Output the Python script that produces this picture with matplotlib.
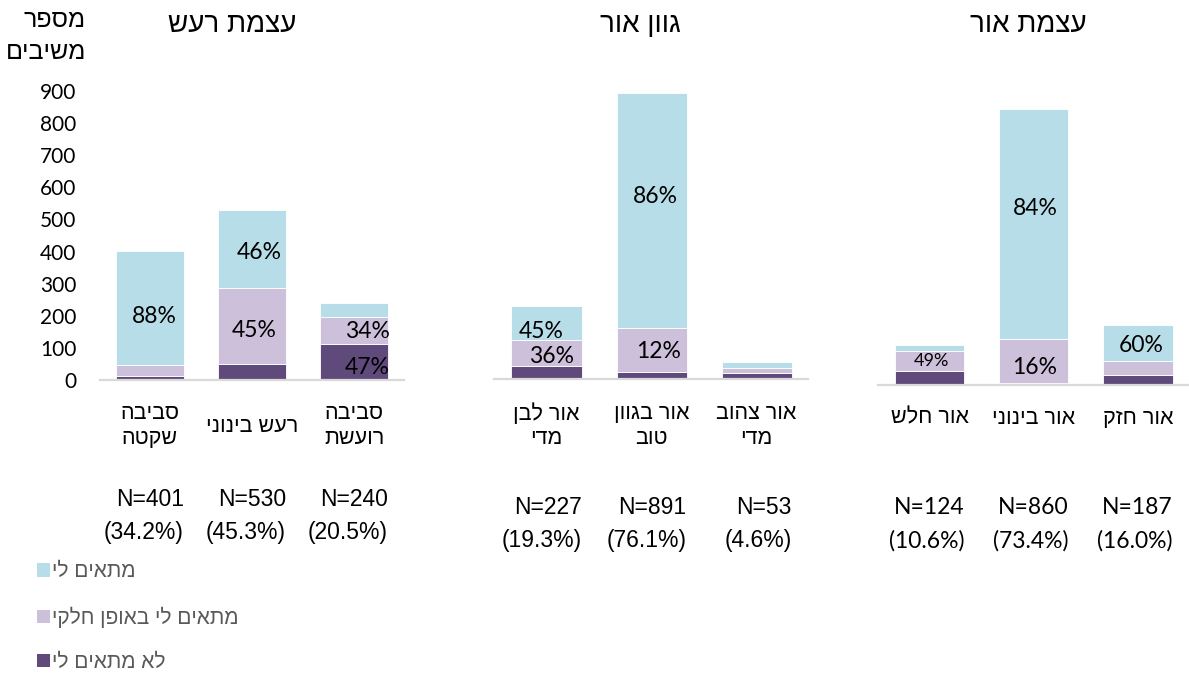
import matplotlib
matplotlib.use("Agg")
import matplotlib.pyplot as plt
import matplotlib.transforms as mtransforms
from matplotlib.patches import Patch
import numpy as np

plt.rcParams['font.family'] = ['Liberation Sans', 'DejaVu Sans']


def heb(s):
    # matplotlib has no bidi support, so flip every line to read right-to-left
    return "\n".join(line[::-1] for line in s.split("\n"))


# ----------------------------------------------------------------------
# Data (respondent counts)
# ----------------------------------------------------------------------
series_names = ["לא מתאים לי", "מתאים לי באופן חלקי", "מתאים לי"]
series_colors = ["#604A7B", "#CCC0DA", "#B7DEE8"]

noise_title = "עצמת רעש"
noise_cats = ["סביבה\nשקטה", "רעש בינוני", "סביבה\nרועשת"]
noise_not = [13, 49, 113]
noise_partial = [35, 238, 82]
noise_fit = [353, 243, 45]
noise_n = [401, 530, 240]
noise_share = [34.2, 45.3, 20.5]
# (bar, series, text)
noise_labels = [(0, 2, "88%"), (1, 2, "46%"), (1, 1, "45%"), (2, 1, "34%"), (2, 0, "47%")]

color_title = "גוון אור"
color_cats = ["אור לבן\nמדי", "אור בגוון\nטוב", "אור צהוב\nמדי"]
color_not = [41, 23, 18]
color_partial = [82, 137, 16]
color_fit = [104, 731, 19]
color_n = [227, 891, 53]
color_share = [19.3, 76.1, 4.6]
color_labels = [(0, 2, "45%"), (0, 1, "36%"), (1, 2, "86%"), (1, 1, "12%")]

light_title = "עצמת אור"
light_cats = ["אור חלש", "אור בינוני", "אור חזק"]
light_not = [44, 7, 30]
light_partial = [61, 135, 44]
light_fit = [19, 718, 113]
light_n = [124, 860, 187]
light_share = [10.6, 73.4, 16.0]
light_labels = [(0, 1, "49%"), (1, 2, "84%"), (1, 1, "16%"), (2, 2, "60%")]

y_ticks = [0, 100, 200, 300, 400, 500, 600, 700, 800, 900]

# ----------------------------------------------------------------------
# Layout (pixel based, the source is three pasted charts)
# ----------------------------------------------------------------------
W, H = 1189, 676
fig = plt.figure(figsize=(W / 100, H / 100), dpi=100)
fig.patch.set_facecolor("white")


def fy(ypx):
    return 1 - ypx / H


def panel_axes(left, right, base, top):
    return fig.add_axes([left / W, fy(base), (right - left) / W, (base - top) / H])


def draw_panel(ax, title, title_x, cats, stacks, n, share, labels, label_offsets,
               cat_y, n_y, n_font, label_sizes, xlim):
    x = np.arange(len(cats))
    bottom = np.zeros(len(cats))
    tops = []
    for vals, c in zip(stacks, series_colors):
        vals = np.array(vals, dtype=float)
        ax.bar(x, vals, bottom=bottom, width=0.667, color=c,
               edgecolor="white", linewidth=0.6, zorder=2)
        tops.append((bottom.copy(), bottom + vals))
        bottom = bottom + vals

    ax.set_xlim(*xlim)
    ax.set_ylim(0, 900)
    ax.set_xticks([])
    for s in ["top", "right", "left"]:
        ax.spines[s].set_visible(False)
    ax.spines["bottom"].set_color("#D9D9D9")
    ax.spines["bottom"].set_linewidth(1.6)
    ax.set_facecolor("none")

    # percentages inside segments
    for (b, s, txt), (dx, dy), fs in zip(labels, label_offsets, label_sizes):
        lo, hi = tops[s][0][b], tops[s][1][b]
        ax.annotate(txt, (x[b], (lo + hi) / 2), xytext=(dx, dy),
                    textcoords="offset pixels", ha="center", va="center",
                    fontsize=fs, family=["Lato", "DejaVu Sans"], color="#000000", zorder=3)

    trans = mtransforms.blended_transform_factory(ax.transData, fig.transFigure)
    for i, c in enumerate(cats):
        ax.text(x[i], fy(cat_y), heb(c), transform=trans, ha="center", va="center",
                multialignment="center", fontsize=15.5, linespacing=1.2, color="#000000")
        ax.text(x[i] + 0.333, fy(n_y), f"N={n[i]}", transform=trans, ha="right",
                va="center", fontsize=16.5, family=n_font, color="#000000")
        ax.text(x[i] + 0.333, fy(n_y + 34), f"({share[i]:.1f}%)", transform=trans,
                ha="right", va="center", fontsize=16.5, family=n_font, color="#000000")

    fig.text(title_x / W, fy(25), heb(title), ha="center", va="center",
             fontsize=20, color="#000000")


ax1 = panel_axes(100, 404, 380, 91)
draw_panel(ax1, noise_title, 232, noise_cats, [noise_not, noise_partial, noise_fit],
           noise_n, noise_share, noise_labels,
           [(4, -9), (7, -4), (2, -4), (13, -1), (13, -6)],
           426, 499, ["Liberation Sans"], [16.5] * 5, (-0.49, 2.49))
ax1.set_yticks(y_ticks)
ax1.set_yticklabels([str(t) for t in y_ticks], family=["Lato", "DejaVu Sans"], fontsize=15)
ax1.tick_params(axis="y", length=0, pad=17)

ax2 = panel_axes(494, 808, 379, 90)
draw_panel(ax2, color_title, 640, color_cats, [color_not, color_partial, color_fit],
           color_n, color_share, color_labels,
           [(-5, -9), (5, -4), (4, 14), (7, -2)],
           426, 507, ["Liberation Sans"], [16.5] * 4, (-0.5, 2.49))
ax2.set_yticks([])

ax3 = panel_axes(878, 1190, 385, 96)
draw_panel(ax3, light_title, 1028, light_cats, [light_not, light_partial, light_fit],
           light_n, light_share, light_labels,
           [(2, 0), (2, 16), (1, -6), (3, -2)],
           418, 507, ["Lato", "DejaVu Sans"], [13, 16.5, 16.5, 16.5], (-0.495, 2.5))
ax3.set_yticks([])

# y axis title
fig.text(86 / W, fy(36), heb("מספר\nמשיבים"), ha="right", va="center",
         multialignment="right", fontsize=18, linespacing=1.45, color="#000000")

# legend (top to bottom: fit, partial, not fit)
handles = [Patch(facecolor=series_colors[i], edgecolor="none") for i in [2, 1, 0]]
leg_labels = [heb(series_names[i]) for i in [2, 1, 0]]
fig.legend(handles, leg_labels, loc="upper left", bbox_to_anchor=(27 / W, fy(552)),
           frameon=False, fontsize=15, handlelength=0.6, handleheight=0.6,
           handletextpad=0.1, labelspacing=1.2, borderpad=0, labelcolor="#595959")

fig.savefig("out.png", dpi=100)
